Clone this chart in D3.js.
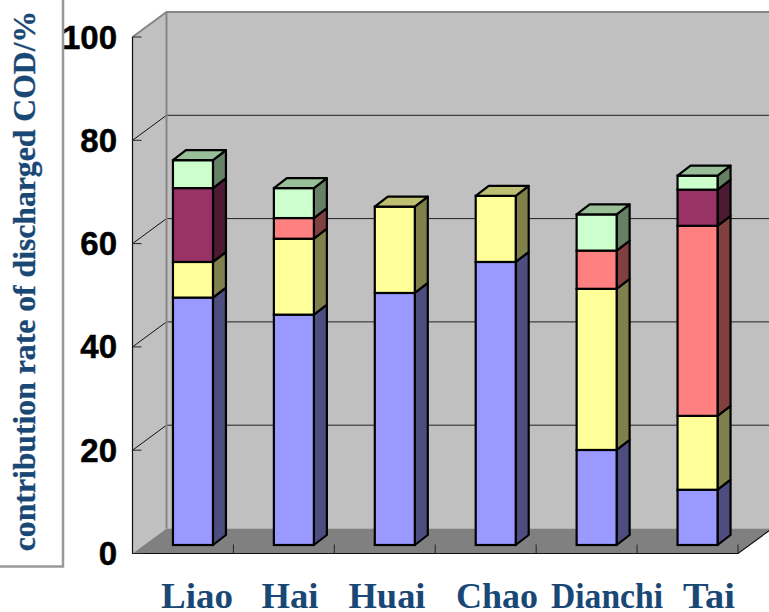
<!DOCTYPE html>
<html>
<head>
<meta charset="utf-8">
<script src="https://cdn.jsdelivr.net/npm/d3@7/dist/d3.min.js"></script>
<style>
  html, body { margin: 0; padding: 0; background: #fff; }
  svg { display: block; }
</style>
</head>
<body>
<svg id="chart" width="769" height="612"></svg>
<script>
// Contribution of each source to discharged COD, stacked per basin (pseudo-3D columns).
const basins = ["Liao", "Hai", "Huai", "Chao", "Dianchi", "Tai"];
const seriesA = [47.9, 44.6, 48.8, 54.8, 18.4, 10.7];
const seriesB = [6.9, 14.7, 16.7, 12.8, 31.2, 14.3];
const seriesC = [0, 4.0, 0, 0, 7.4, 36.8];
const seriesD = [14.3, 0, 0, 0, 0, 7.0];
const seriesE = [5.4, 5.8, 0, 0, 7.0, 2.7];
const seriesColors = ["#9999ff", "#ffff99", "#ff8080", "#993366", "#ccffcc"];
const yTicks = [0, 20, 40, 60, 80, 100];
const titleText = "contribution rate of discharged COD/%";

const allSeries = [seriesA, seriesB, seriesC, seriesD, seriesE];

const svg = d3.select("#chart");

// Plot box on the front plane, and the perspective offsets of the chart and of a column
const plot = { left: 132.5, right: 738, top: 37, bottom: 553.5 };
const wall = { dx: 34, dy: -25 };
const col = { dx: 13, dy: -10, shift: 10, lift: -8.5 };

const x = d3.scaleBand().domain(basins).range([plot.left, plot.right]).paddingInner(0).paddingOuter(0);
const y = d3.scaleLinear().domain([0, 100]).range([plot.bottom, plot.top]);
const barWidth = 40;

const poly = pts => "M" + pts.map(p => p.join(",")).join("L") + "Z";

// Back wall
svg.append("path")
  .attr("d", poly([[plot.left + wall.dx, y(100) + wall.dy], [plot.right + wall.dx, y(100) + wall.dy],
                   [plot.right + wall.dx, y(0) + wall.dy], [plot.left + wall.dx, y(0) + wall.dy]]))
  .attr("fill", "#c0c0c0");

// Left wall
svg.append("path")
  .attr("d", poly([[plot.left, y(100)], [plot.left + wall.dx, y(100) + wall.dy],
                   [plot.left + wall.dx, y(0) + wall.dy], [plot.left, y(0)]]))
  .attr("fill", "#c0c0c0");

// Floor
svg.append("path")
  .attr("d", poly([[plot.left, y(0)], [plot.right, y(0)],
                   [plot.right + wall.dx, y(0) + wall.dy], [plot.left + wall.dx, y(0) + wall.dy]]))
  .attr("fill", "#808080");

// Gridlines along the back wall and down the left wall
yTicks.filter(t => t > 0 && t < 100).forEach(t => {
  svg.append("line")
    .attr("x1", plot.left + wall.dx).attr("x2", plot.right + wall.dx)
    .attr("y1", y(t) + wall.dy).attr("y2", y(t) + wall.dy)
    .attr("stroke", "#222").attr("stroke-width", 1);
  svg.append("line")
    .attr("x1", plot.left).attr("x2", plot.left + wall.dx)
    .attr("y1", y(t)).attr("y2", y(t) + wall.dy)
    .attr("stroke", "#111").attr("stroke-width", 1);
});

// Wall outline in grey
svg.append("path")
  .attr("d", `M${plot.left},${y(100)}L${plot.left + wall.dx},${y(100) + wall.dy}L${plot.right + wall.dx},${y(100) + wall.dy}`)
  .attr("fill", "none").attr("stroke", "#868686").attr("stroke-width", 2);
svg.append("line")
  .attr("x1", plot.left + wall.dx).attr("x2", plot.left + wall.dx)
  .attr("y1", y(100) + wall.dy).attr("y2", y(0) + wall.dy)
  .attr("stroke", "#868686").attr("stroke-width", 2);

// Front axes with inward ticks
const axisG = svg.append("g");
axisG.append("path")
  .attr("d", `M${plot.left},${y(100)}L${plot.left},${y(0)}L${plot.right},${y(0)}L${plot.right + wall.dx},${y(0) + wall.dy}`)
  .attr("fill", "none").attr("stroke", "#111").attr("stroke-width", 1.2);
axisG.selectAll("line.ytick").data(yTicks).join("line")
  .attr("class", "ytick")
  .attr("x1", plot.left).attr("x2", plot.left + 9)
  .attr("y1", d => y(d)).attr("y2", d => y(d))
  .attr("stroke", "#222").attr("stroke-width", 1);
axisG.selectAll("line.xtick").data(basins.slice(1).map(b => x(b)).concat([plot.right])).join("line")
  .attr("class", "xtick")
  .attr("x1", d => d).attr("x2", d => d)
  .attr("y1", y(0)).attr("y2", y(0) - 9)
  .attr("stroke", "#222").attr("stroke-width", 1);

// Stacked columns: front, top and side faces per segment
const shade = (c, k) => {
  const r = d3.rgb(c);
  return d3.rgb(r.r * k, r.g * k, r.b * k).formatHex();
};
basins.forEach((b, i) => {
  const x0 = x(b) + x.bandwidth() / 2 + col.shift - barWidth / 2;
  const x1 = x0 + barWidth;
  const g = svg.append("g").attr("class", "column");
  let acc = 0;
  const segments = [];
  allSeries.forEach((s, k) => {
    if (s[i] > 0) {
      segments.push({ from: acc, to: acc + s[i], color: seriesColors[k] });
      acc += s[i];
    }
  });
  segments.forEach((seg, j) => {
    const yb = y(seg.from) + col.lift;
    const yt = y(seg.to) + col.lift;
    g.append("path")
      .attr("d", poly([[x1, yb], [x1 + col.dx, yb + col.dy], [x1 + col.dx, yt + col.dy], [x1, yt]]))
      .attr("fill", shade(seg.color, 0.5))
      .attr("stroke", "#000").attr("stroke-width", 2.2).attr("stroke-linejoin", "round");
    g.append("rect")
      .attr("x", x0).attr("y", yt).attr("width", barWidth).attr("height", yb - yt)
      .attr("fill", seg.color)
      .attr("stroke", "#000").attr("stroke-width", 2.2);
    if (j === segments.length - 1) {
      g.append("path")
        .attr("d", poly([[x0, yt], [x1, yt], [x1 + col.dx, yt + col.dy], [x0 + col.dx, yt + col.dy]]))
        .attr("fill", shade(seg.color, 0.75))
        .attr("stroke", "#000").attr("stroke-width", 2.2).attr("stroke-linejoin", "round");
    }
  });
});

// Value labels on the vertical axis
svg.selectAll("text.ylab").data(yTicks).join("text")
  .attr("class", "ylab")
  .attr("x", 117).attr("y", d => y(d) + 11.5)
  .attr("text-anchor", "end")
  .attr("font-family", "'Liberation Sans', Arial, sans-serif")
  .attr("font-weight", "bold").attr("font-size", 33).attr("fill", "#000")
  .attr("stroke", "#000").attr("stroke-width", 0.5)
  .text(d => d);

// Basin labels
const labelCentres = [197, 290, 387, 497, 607, 709];
const labelWidths = [72, 57, 77, 82, 112, 52];
svg.selectAll("text.xlab").data(basins).join("text")
  .attr("class", "xlab")
  .attr("x", (d, i) => labelCentres[i]).attr("y", 608)
  .attr("text-anchor", "middle")
  .attr("textLength", (d, i) => labelWidths[i])
  .attr("lengthAdjust", "spacingAndGlyphs")
  .attr("font-family", "'Liberation Serif', 'Times New Roman', serif")
  .attr("font-weight", "bold").attr("font-size", 36).attr("fill", "#1a4876")
  .text(d => d);

// Frame of the rotated title
svg.append("path")
  .attr("d", "M63,0V566.5H0")
  .attr("fill", "none").attr("stroke", "#999").attr("stroke-width", 2.5);

svg.append("text")
  .attr("transform", "translate(34.5,281) rotate(-90)")
  .attr("text-anchor", "middle")
  .attr("font-family", "'Liberation Serif', 'Times New Roman', serif")
  .attr("font-weight", "bold").attr("font-size", 31.7).attr("fill", "#1a4876")
  .attr("stroke", "#1a4876").attr("stroke-width", 0.3)
  .text(titleText);
</script>
</body>
</html>
